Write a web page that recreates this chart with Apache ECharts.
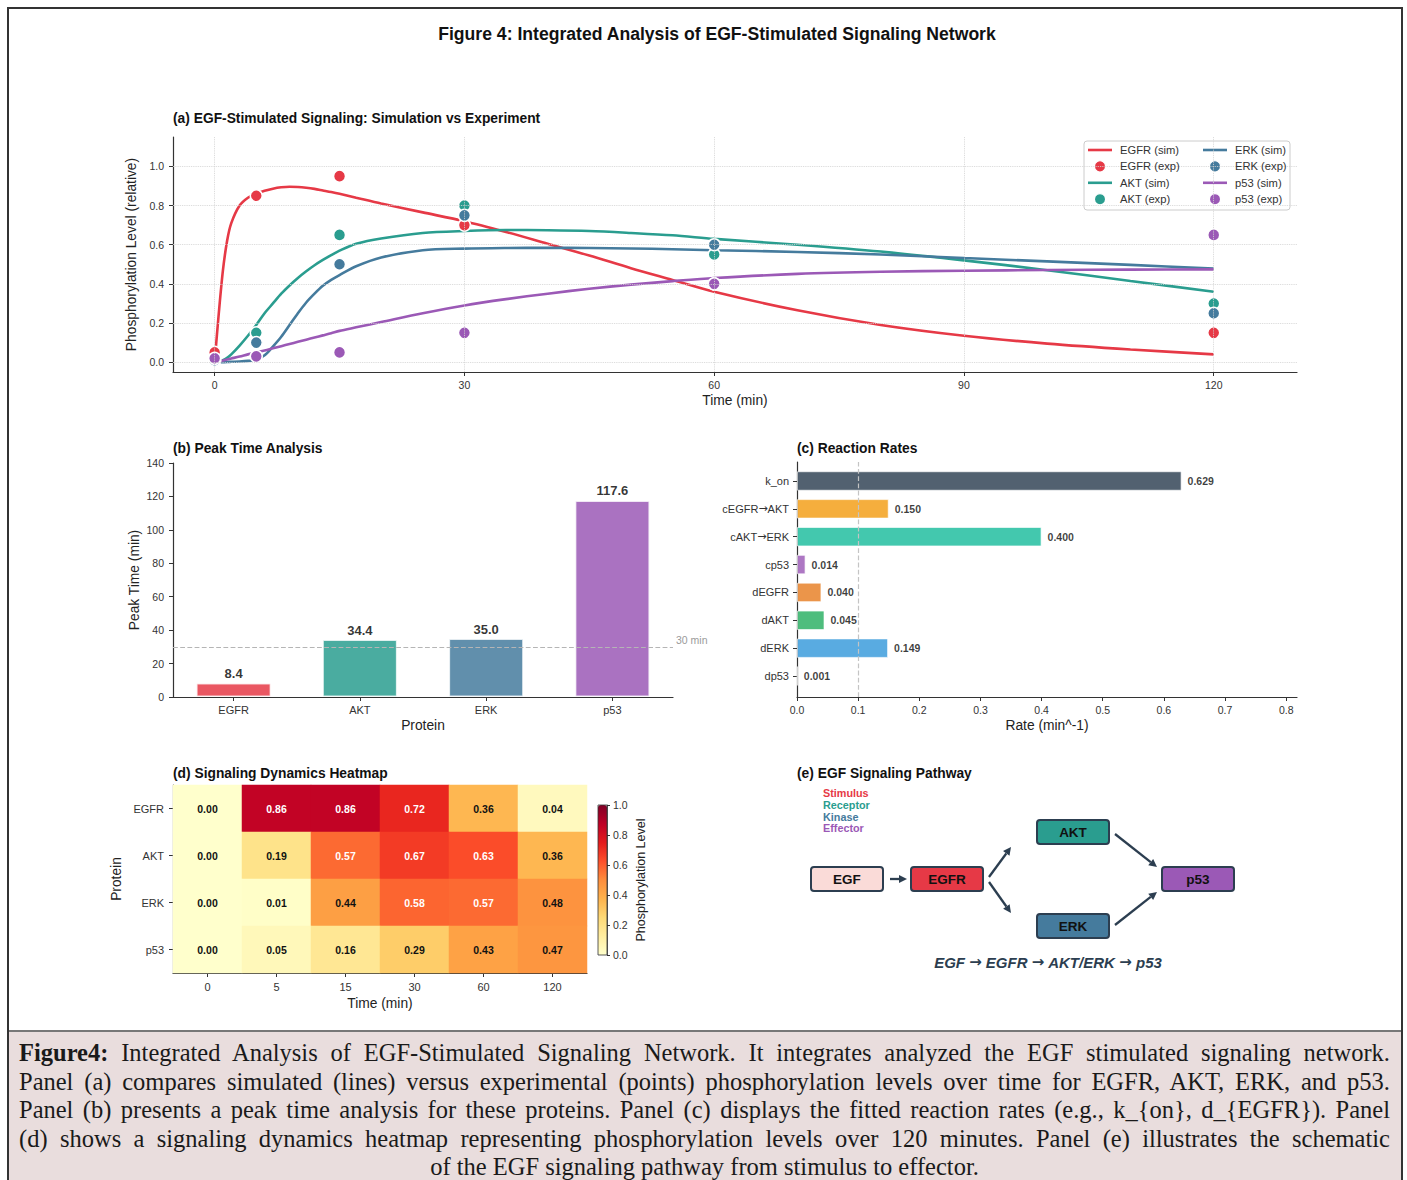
<!DOCTYPE html>
<html><head><meta charset="utf-8">
<script src="https://cdn.jsdelivr.net/npm/echarts@6/dist/echarts.min.js"></script>
<style>
html,body{margin:0;padding:0;background:#fff;width:1407px;height:1180px;overflow:hidden;}
#frame{position:absolute;left:7px;top:7px;width:1396px;height:1200px;border:2px solid #333;box-sizing:border-box;}
#chart{position:absolute;left:0;top:0;width:1407px;height:1031px;}
#caption{position:absolute;left:9px;top:1030px;width:1392px;height:170px;background:#E9DDDD;border-top:2px solid #777;box-sizing:border-box;padding:7px 11px 0 10px;font-family:"Liberation Serif","Times New Roman",serif;font-size:24.5px;line-height:28.6px;color:#1a1a1a;}
#caption div{text-align:justify;text-align-last:justify;}
#caption div.last{text-align:center;text-align-last:center;}
</style></head>
<body>
<div id="frame"></div>
<div id="chart"></div>
<div id="caption">
<div><b>Figure4:</b> Integrated Analysis of EGF-Stimulated Signaling Network. It integrates analyzed the EGF stimulated signaling network.</div>
<div>Panel (a) compares simulated (lines) versus experimental (points) phosphorylation levels over time for EGFR, AKT, ERK, and p53.</div>
<div>Panel (b) presents a peak time analysis for these proteins. Panel (c) displays the fitted reaction rates (e.g., k_{on}, d_{EGFR}). Panel</div>
<div>(d) shows a signaling dynamics heatmap representing phosphorylation levels over 120 minutes. Panel (e) illustrates the schematic</div>
<div class="last">of the EGF signaling pathway from stimulus to effector.</div>
</div>
<script>
// ---------- DATA ----------
const simTime = [0,0.5,1,1.5,2,3,4,5,6,7,8,9,10,11,12,13,14,15,17,20,25,30,35,40,45,50,55,60,70,80,90,100,110,120];
const egfrSim = [0,0.25,0.47,0.62,0.71,0.80,0.84,0.86,0.875,0.886,0.893,0.896,0.895,0.891,0.885,0.877,0.869,0.86,0.84,0.81,0.765,0.72,0.665,0.605,0.545,0.48,0.42,0.36,0.265,0.19,0.135,0.095,0.065,0.04];
const aktSim  = [0,0.003,0.01,0.022,0.04,0.085,0.135,0.19,0.25,0.30,0.35,0.392,0.43,0.464,0.495,0.522,0.547,0.57,0.605,0.632,0.66,0.67,0.675,0.674,0.67,0.66,0.648,0.63,0.60,0.565,0.52,0.47,0.415,0.36];
const erkSim  = [0,0,0.0005,0.001,0.002,0.004,0.007,0.012,0.035,0.08,0.13,0.19,0.25,0.305,0.35,0.39,0.42,0.445,0.49,0.535,0.572,0.58,0.583,0.584,0.583,0.581,0.577,0.572,0.563,0.55,0.532,0.515,0.497,0.478];
const p53Sim  = [0,0.004,0.009,0.014,0.019,0.029,0.04,0.05,0.06,0.071,0.082,0.093,0.104,0.115,0.126,0.137,0.148,0.16,0.178,0.205,0.25,0.29,0.322,0.35,0.375,0.396,0.414,0.43,0.451,0.462,0.467,0.471,0.473,0.474];
const expTime = [0,5,15,30,60,120];
const egfrExp = [0.05,0.85,0.95,0.70,0.40,0.15];
const aktExp  = [0.01,0.15,0.65,0.80,0.55,0.30];
const erkExp  = [0.01,0.10,0.50,0.75,0.60,0.25];
const p53Exp  = [0.02,0.03,0.05,0.15,0.40,0.65];
const timeTicks = [0,30,60,90,120];
const levelTicks = [0,0.2,0.4,0.6,0.8,1.0];

const proteins = ['EGFR','AKT','ERK','p53'];
const peakTimes = [8.4,34.4,35.0,117.6];
const peakRef = 30;

const rateNames = ['k_on','cEGFR\u2192AKT','cAKT\u2192ERK','cp53','dEGFR','dAKT','dERK','dp53'];
const rateValues = [0.629,0.150,0.400,0.014,0.040,0.045,0.149,0.001];
const rateTicks = [0,0.1,0.2,0.3,0.4,0.5,0.6,0.7,0.8];
const rateRef = 0.1;

const heatTimes = ['0','5','15','30','60','120'];
const heatEGFR = [0.00,0.86,0.86,0.72,0.36,0.04];
const heatAKT  = [0.00,0.19,0.57,0.67,0.63,0.36];
const heatERK  = [0.00,0.01,0.44,0.58,0.57,0.48];
const heatP53  = [0.00,0.05,0.16,0.29,0.43,0.47];

const pathNodes = ['EGF','EGFR','AKT','ERK','p53'];
const pathLegend = ['Stimulus','Receptor','Kinase','Effector'];

// ---------- STYLE ----------
const FF = '"Liberation Sans", Arial, Helvetica, sans-serif';
const ARF = '"DejaVu Sans", sans-serif';
const proteinColors = ['#E63946','#2A9D8F','#457B9D','#9B59B6'];
const rateColors = ['#2C3E50','#F39C12','#1ABC9C','#9B59B6','#E67E22','#27AE60','#3498DB','#E74C3C'];
const YlOrRd = ['#ffffcc','#ffeda0','#fed976','#feb24c','#fd8d3c','#fc4e2a','#e31a1c','#bd0026','#800026'];
const AX = '#333';
const NAME_FS = 13.8;

function merge(a,b){for(const k in b){const v=b[k];if(v&&typeof v==='object'&&!Array.isArray(v)&&a[k]&&typeof a[k]==='object'&&!Array.isArray(a[k]))merge(a[k],v);else a[k]=v;}return a;}
function axis(o){
  return merge({
    axisLine:{show:true,onZero:false,lineStyle:{color:AX,width:1.2}},
    axisTick:{show:true,length:4,lineStyle:{color:AX,width:1}},
    axisLabel:{color:'#333',fontSize:10.5,fontFamily:FF},
    splitLine:{show:false},
    nameLocation:'middle',
    nameTextStyle:{color:'#222',fontSize:NAME_FS,fontFamily:FF}
  },o);
}
const f1 = v => (Math.round(v*10)/10).toFixed(1);
const arrowRich = s => s.split('\u2192').join('{ar|\u2192}');

// ---------- GRIDS ----------
const grids = [
  {left:173,top:137,width:1124,height:235},   // 0 a
  {left:173,top:463,width:500,height:234},    // 1 b
  {left:797,top:462,width:500,height:235},    // 2 c (frame)
  {left:173,top:785,width:414,height:188},    // 3 d
  {left:598,top:805,width:9,height:150},      // 4 colorbar
  {left:797,top:467.07,width:500,height:222.86} // 5 c (bars)
].map(g=>Object.assign({outerBoundsMode:'none',containLabel:false},g));

const xAxes = [
  axis({gridIndex:0,type:'value',min:-5,max:130,name:'Time (min)',nameGap:21,
        axisTick:{customValues:timeTicks},axisLabel:{customValues:timeTicks,margin:7}}),
  axis({gridIndex:1,type:'value',min:-0.48,max:3.48,name:'Protein',nameGap:21,
        axisTick:{customValues:[0,1,2,3]},axisLabel:{customValues:[0,1,2,3],fontSize:11,margin:7,formatter:v=>proteins[Math.round(v)]}}),
  axis({gridIndex:2,type:'value',min:0,max:0.8177,name:'Rate (min^-1)',nameGap:21,
        axisTick:{customValues:rateTicks},axisLabel:{customValues:rateTicks,margin:7,formatter:f1}}),
  axis({gridIndex:3,type:'category',data:heatTimes,name:'Time (min)',nameGap:23,
        axisTick:{alignWithLabel:true},axisLabel:{fontSize:11,margin:8}}),
  {gridIndex:4,type:'value',show:false,min:0,max:1},
  {gridIndex:5,type:'value',show:false,min:0,max:0.8177}
];
const yAxes = [
  axis({gridIndex:0,type:'value',min:-0.05,max:1.15,name:'Phosphorylation Level (relative)',nameGap:28,
        axisTick:{customValues:levelTicks},axisLabel:{customValues:levelTicks,margin:9,formatter:f1}}),
  axis({gridIndex:1,type:'value',min:0,max:140,interval:20,name:'Peak Time (min)',nameGap:32,axisLabel:{margin:9}}),
  {gridIndex:2,type:'value',min:0,max:1,axisLine:{show:true,lineStyle:{color:AX,width:1.2}},axisTick:{show:false},axisLabel:{show:false},splitLine:{show:false}},
  axis({gridIndex:3,type:'category',data:proteins,inverse:true,name:'Protein',nameGap:50,
        axisTick:{alignWithLabel:true},axisLabel:{fontSize:11,margin:9}}),
  axis({gridIndex:4,type:'value',min:0,max:1,interval:0.2,position:'right',name:'Phosphorylation Level',nameGap:27,nameRotate:90,
        axisLine:{lineStyle:{width:0.8}},axisTick:{length:3},axisLabel:{fontSize:10.5,margin:6,formatter:f1},nameTextStyle:{fontSize:12.5}}),
  axis({gridIndex:5,type:'category',data:rateNames,inverse:true,axisLine:{show:false},
        axisTick:{alignWithLabel:true},axisLabel:{fontSize:11,margin:8,formatter:arrowRich,rich:{ar:{fontFamily:ARF,fontSize:11,color:'#333'}}}})
];

// ---------- SERIES ----------
const series = [];
series.push({name:'_gridA',type:'line',xAxisIndex:0,yAxisIndex:0,data:[],symbol:'none',silent:true,z:1,
  markLine:{silent:true,symbol:['none','none'],label:{show:false},animation:false,
    lineStyle:{type:'dotted',color:'#d4d4d4',width:0.9},
    data:levelTicks.map(v=>({yAxis:v})).concat(timeTicks.map(v=>({xAxis:v})))}});
const simSets = [egfrSim,aktSim,erkSim,p53Sim];
const expSets = [egfrExp,aktExp,erkExp,p53Exp];
proteins.forEach((p,i)=>{
  series.push({name:p+' (sim)',type:'line',xAxisIndex:0,yAxisIndex:0,z:2,
    data:simTime.map((t,k)=>[t,simSets[i][k]]),symbol:'none',showSymbol:false,smooth:0.3,
    lineStyle:{color:proteinColors[i],width:2.6},itemStyle:{color:proteinColors[i]}});
  series.push({name:p+' (exp)',type:'scatter',xAxisIndex:0,yAxisIndex:0,z:2,
    data:expTime.map((t,k)=>[t,expSets[i][k]]),symbolSize:12,
    itemStyle:{color:proteinColors[i],borderColor:'#fff',borderWidth:1.5,opacity:1}});
});
series.push({name:'Peak',type:'bar',xAxisIndex:1,yAxisIndex:1,barWidth:75,
  data:peakTimes.map((v,i)=>({value:[i,v],itemStyle:{color:proteinColors[i]}})),
  itemStyle:{opacity:0.85,borderColor:'rgba(255,255,255,0.9)',borderWidth:1.5},
  label:{show:true,position:'top',distance:3,color:'#111',fontWeight:'bold',fontSize:13,fontFamily:FF,formatter:p=>p.value[1].toFixed(1)},
  markLine:{silent:true,symbol:['none','none'],animation:false,
    lineStyle:{type:'dashed',color:'#b5b5b5',width:1.2},
    label:{show:true,position:'end',formatter:peakRef+' min',color:'#9a9a9a',fontSize:10.5,fontFamily:FF,distance:3,offset:[0,-7]},
    data:[{yAxis:peakRef}]}});
series.push({name:'Rates',type:'bar',xAxisIndex:5,yAxisIndex:5,barWidth:19.5,z:2,
  data:rateValues.map((v,i)=>({value:v,itemStyle:{color:rateColors[i]}})),
  itemStyle:{opacity:0.82,borderColor:'rgba(255,255,255,0.8)',borderWidth:1},
  label:{show:true,position:'right',distance:6,color:'#111',fontWeight:'bold',fontSize:10.5,fontFamily:FF,formatter:p=>p.value.toFixed(3)}});
series.push({name:'_refC',type:'line',xAxisIndex:2,yAxisIndex:2,data:[],symbol:'none',silent:true,z:3,
  markLine:{silent:true,symbol:['none','none'],label:{show:false},animation:false,
    lineStyle:{type:'dashed',color:'#c4c4c4',width:1.2},data:[{xAxis:rateRef}]}});
const heatRows = [heatEGFR,heatAKT,heatERK,heatP53];
const heatData = [];
heatRows.forEach((row,r)=>row.forEach((v,c)=>heatData.push({value:[c,r,v],label:{color:v>0.5?'#fff':'#111'}})));
const heatIndex = series.length;
series.push({name:'Heat',type:'heatmap',xAxisIndex:3,yAxisIndex:3,data:heatData,
  label:{show:true,fontWeight:'bold',fontSize:10.5,fontFamily:FF,formatter:p=>p.value[2].toFixed(2)},
  emphasis:{disabled:true}});

// ---------- GRAPHIC ----------
const graphic = [];
function txt(s,x,y,o){graphic.push(merge({type:'text',silent:true,z:10,style:{text:s,x:x,y:y,fill:'#111',font:'bold 13.8px '+FF,textAlign:'left',textVerticalAlign:'middle'}},o||{}));}
txt('Figure 4: Integrated Analysis of EGF-Stimulated Signaling Network',717,34,{style:{font:'bold 17.6px '+FF,textAlign:'center'}});
txt('(a) EGF-Stimulated Signaling: Simulation vs Experiment',173,118);
txt('(b) Peak Time Analysis',173,448);
txt('(c) Reaction Rates',797,448);
txt('(d) Signaling Dynamics Heatmap',173,773);
txt('(e) EGF Signaling Pathway',797,773);
// legend for (a)
graphic.push({type:'rect',silent:true,z:3,shape:{x:1084,y:141,width:206,height:69,r:3},style:{fill:'rgba(255,255,255,0.85)',stroke:'#cccccc',lineWidth:1}});
const legendCols = [[0,1],[2,3]];
legendCols.forEach((col,ci)=>{
  const x0 = ci===0?1088:1203;
  let row=0;
  col.forEach(pi=>{
    ['sim','exp'].forEach(kind=>{
      const y = 150+row*16.4;
      if(kind==='sim') graphic.push({type:'line',silent:true,z:4,shape:{x1:x0,y1:y,x2:x0+24,y2:y},style:{stroke:proteinColors[pi],lineWidth:2.6}});
      else graphic.push({type:'circle',silent:true,z:4,shape:{cx:x0+12,cy:y,r:5.6},style:{fill:proteinColors[pi],stroke:'#fff',lineWidth:1.2}});
      txt(proteins[pi]+' ('+kind+')',x0+32,y,{style:{font:'11.2px '+FF,fill:'#333'}});
      row++;
    });
  });
});
// colorbar outline
graphic.push({type:'rect',silent:true,z:20,shape:{x:598,y:805,width:9,height:150},style:{fill:'none',stroke:'#333',lineWidth:0.8}});
// pathway diagram
const nodeColor = {EGF:'#FADBD8',EGFR:'#E63946',AKT:'#2A9D8F',ERK:'#457B9D',p53:'#9B59B6'};
const nodePos = {EGF:[847,879],EGFR:[947,879],AKT:[1073,832],ERK:[1073,926],p53:[1198,879]};
pathNodes.forEach(n=>{
  const [cx,cy]=nodePos[n];
  graphic.push({type:'rect',silent:true,z:10,shape:{x:cx-36,y:cy-12,width:72,height:24,r:3},style:{fill:nodeColor[n],stroke:'#2C3E50',lineWidth:2}});
  txt(n,cx,cy+0.5,{style:{font:'bold 13.5px '+FF,textAlign:'center'}});
});
const arrows = [[890,879,907,879],[989,877,1011,847],[989,882,1011,913],[1115,834,1157,867],[1115,925,1157,892]];
arrows.forEach(([x1,y1,x2,y2])=>{
  const dx=x2-x1,dy=y2-y1,L=Math.hypot(dx,dy),ux=dx/L,uy=dy/L,hl=8,hw=4;
  const bx=x2-ux*hl,by=y2-uy*hl;
  graphic.push({type:'line',silent:true,z:10,shape:{x1:x1,y1:y1,x2:bx,y2:by},style:{stroke:'#2C3E50',lineWidth:2.3}});
  graphic.push({type:'polygon',silent:true,z:10,shape:{points:[[x2,y2],[bx-uy*hw,by+ux*hw],[bx+uy*hw,by-ux*hw]]},style:{fill:'#2C3E50'}});
});
const legendColors = ['#E63946','#2A9D8F','#457B9D','#9B59B6'];
pathLegend.forEach((s,i)=>txt(s,823,793+i*11.8,{style:{font:'bold 10.8px '+FF,fill:legendColors[i]}}));
txt(arrowRich('EGF \u2192 EGFR \u2192 AKT/ERK \u2192 p53'),1048,962,{style:{font:'italic bold 15px '+FF,fill:'#2C3E50',textAlign:'center',
  rich:{ar:{fontFamily:ARF,fontSize:15,fontWeight:'bold',fill:'#2C3E50'}}}});

// ---------- OPTION ----------
const option = {
  animation:false,
  backgroundColor:'transparent',
  textStyle:{fontFamily:FF},
  grid:grids,
  xAxis:xAxes,
  yAxis:yAxes,
  visualMap:{type:'continuous',min:0,max:1,seriesIndex:heatIndex,calculable:false,hoverLink:false,show:true,
    orient:'vertical',left:598,top:805,itemWidth:9,itemHeight:150,padding:0,text:null,showLabel:false,
    inRange:{color:YlOrRd}},
  series:series,
  graphic:graphic
};
const chart = echarts.init(document.getElementById('chart'),null,{renderer:'svg'});
chart.setOption(option);
</script>
</body></html>
